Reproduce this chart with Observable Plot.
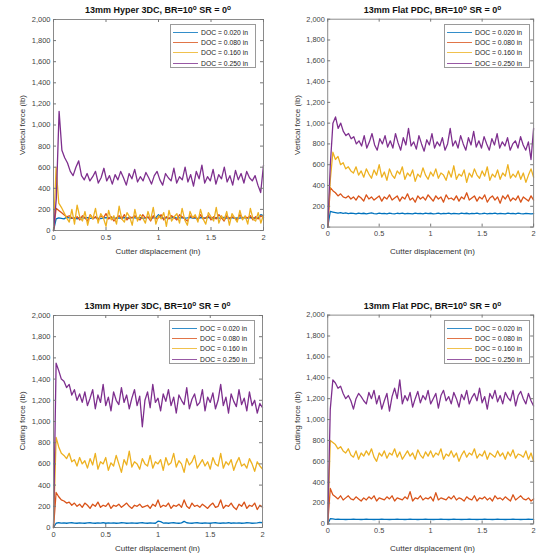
<!DOCTYPE html>
<html>
<head>
<meta charset="utf-8">
<script src="https://cdn.jsdelivr.net/npm/d3@7"></script>
<script src="https://cdn.jsdelivr.net/npm/@observablehq/plot@0.6"></script>
<style>
  html, body { margin: 0; padding: 0; background: #fff; }
  #root { position: relative; width: 541px; height: 556px; overflow: hidden; background: #fff;
          font-family: "Liberation Sans", Arial, Helvetica, sans-serif; }
  .panel { position: absolute; }
  .title { position: absolute; font-weight: bold; font-size: 9px; color: #111; white-space: nowrap; transform: translateX(-50%); }
  .title sup { font-size: 6.5px; vertical-align: 3px; line-height: 0; }
  .xlab { position: absolute; font-size: 8px; color: #333; white-space: nowrap; transform: translateX(-50%); }
  .ylab { position: absolute; font-size: 8px; color: #333; white-space: nowrap; transform: translate(-50%, -50%) rotate(-90deg); }
  .legend { position: absolute; background: #fff; border: 1px solid #9a9a9a; box-sizing: border-box; padding: 2px 2px 2px 2px; }
  .legend .row { display: flex; align-items: center; height: 10.4px; font-size: 6.8px; color: #222; white-space: nowrap; }
  .legend .sw { width: 25px; height: 0; border-top: 1px solid; margin-right: 3px; opacity: 0.8; }
</style>
</head>
<body>
<div id="root"></div>
<script>
// ---------- data ----------
const docLabels = ["DOC = 0.020 in", "DOC = 0.080 in", "DOC = 0.160 in", "DOC = 0.250 in"];
const seriesColors = ["#0072BD", "#D95319", "#EDB120", "#7E2F8E"];
const xTicks = [0, 0.5, 1, 1.5, 2];
const yTicks = [0, 200, 400, 600, 800, 1000, 1200, 1400, 1600, 1800, 2000];
const panelTitles = ["13mm Hyper 3DC, BR=10", "13mm Flat PDC, BR=10"];
const yLabels = ["Vertical force (lb)", "Cutting force (lb)"];
const xLabel = "Cutter displacement (in)";

// Vertical force, 13mm Hyper 3DC
const vertHyper020 = [0,110,120,115,110,125,120,115,120,110,125,120,118,122,115,120,125,118,112,120,122,118,125,120,115,120,118,122,120,116,124,120,118,122,115,120,125,118,120,122,150,120,118,122,115,120,125,118,120,122,118,120,125,118,120,115,122,120,118,124,120,116,122,118,120,125,118,120,122,115,120,118,125,120,118,122,120,118,120,150,140];
const vertHyper080 = [0,210,190,170,150,130,140,120,110,130,100,140,120,90,150,110,130,100,140,120,160,110,130,90,120,140,110,150,100,130,120,140,110,100,150,120,130,90,140,110,120,150,100,130,110,140,120,100,150,130,110,90,140,120,130,100,150,110,120,140,100,130,110,150,120,90,140,110,130,120,100,150,110,130,120,140,100,130,110,140,120];
const vertHyper160 = [0,600,260,220,170,120,80,200,60,240,130,90,180,50,150,110,210,70,160,120,40,190,100,140,60,230,110,80,170,130,50,200,90,150,120,70,180,100,220,60,140,110,170,40,190,90,130,160,70,210,100,50,180,120,150,80,200,110,60,170,130,90,220,70,140,100,180,50,160,120,80,190,100,140,60,210,110,90,170,70,150];
const vertHyper250 = [0,300,1130,760,690,640,560,520,600,660,520,480,540,470,510,560,450,500,590,470,520,440,530,480,560,500,430,540,490,580,460,510,470,550,500,440,520,560,480,430,540,500,470,590,450,510,480,600,460,530,420,560,490,620,450,510,470,580,440,530,490,600,460,520,430,570,480,540,450,560,500,470,520,430,360,620];

// Vertical force, 13mm Flat PDC
const vertFlat020 = [0,150,145,140,135,138,132,136,130,134,132,128,135,130,133,128,132,136,130,128,134,130,132,128,135,130,127,133,130,135,128,132,130,126,134,130,132,128,135,130,133,128,130,135,128,132,130,134,127,132,130,128,135,130,133,128,132,130,135,128,130,133,127,132,130,135,128,132,130,128,134,130,132,128,135,130,127,132,130,128,130];
const vertFlat080 = [0,380,350,330,300,320,290,280,300,270,290,260,300,280,250,310,270,290,260,280,300,250,290,270,310,260,280,300,250,290,270,320,260,280,240,300,270,290,260,310,280,250,300,270,290,240,310,270,280,260,300,250,290,270,330,260,280,300,250,290,270,310,240,280,300,260,290,230,300,270,310,250,280,260,300,240,290,270,250,300,260];
const vertFlat160 = [0,450,720,650,680,600,620,560,580,540,520,580,500,540,480,560,510,470,550,500,600,480,530,450,560,500,470,540,510,580,460,520,490,550,440,510,480,570,500,460,530,490,560,470,520,500,450,540,480,590,460,510,490,550,430,520,480,560,500,470,540,490,580,450,510,480,550,460,520,490,600,470,510,480,540,460,520,430,500,560,480];
const vertFlat250 = [0,600,1000,1060,950,1000,920,880,900,850,870,800,830,780,880,760,820,900,790,740,850,800,880,770,830,760,900,810,740,860,790,950,780,820,750,880,800,730,840,790,900,760,820,780,860,740,800,950,780,830,760,880,800,740,860,790,920,770,830,760,870,800,740,850,790,900,760,820,780,860,740,800,830,760,870,790,740,820,650,950];

// Cutting force, 13mm Hyper 3DC
const cutHyper020 = [0,40,45,42,44,40,43,45,42,40,44,42,40,43,45,42,40,44,42,45,40,43,42,44,40,42,45,43,40,42,44,42,40,43,45,42,40,44,42,40,60,55,42,44,40,43,45,42,40,44,58,45,42,40,43,45,42,40,44,42,40,43,45,42,40,44,42,45,40,43,42,44,40,42,45,43,40,42,44,48,45];
const cutHyper080 = [0,330,290,260,250,230,240,210,230,200,220,190,230,210,180,220,200,240,190,210,200,230,180,210,200,220,190,210,230,200,180,210,200,220,190,200,210,180,220,200,260,190,210,200,230,180,210,200,220,190,260,200,180,230,200,210,190,220,200,180,210,230,190,200,260,180,210,200,230,190,170,220,200,240,180,210,200,230,170,210,190];
const cutHyper160 = [0,850,760,700,680,650,700,620,640,580,660,600,630,560,650,590,700,550,620,600,660,540,610,580,680,600,520,640,590,720,570,620,600,550,650,600,580,680,560,620,600,640,540,660,590,610,700,570,630,600,520,650,590,620,680,560,600,640,580,620,550,660,600,580,700,560,620,590,640,540,610,660,580,600,560,650,600,530,620,580,550];
const cutHyper250 = [0,1550,1480,1400,1380,1320,1350,1250,1300,1200,1260,1180,1280,1150,1220,1300,1120,1250,1180,1350,1150,1230,1100,1280,1200,1160,1320,1180,1250,1120,1220,1300,1150,1240,950,1200,1280,1130,1350,1180,1220,1100,1260,1190,1300,1150,1230,1080,1250,1200,1160,1320,1120,1210,1260,1150,1180,1300,1100,1230,1180,1270,1120,1200,1350,1150,1230,1080,1260,1190,1140,1300,1160,1220,1100,1280,1150,1200,1080,1170,1130];

// Cutting force, 13mm Flat PDC
const cutFlat020 = [0,50,48,45,46,44,45,43,45,44,46,44,45,43,44,46,45,44,43,45,44,46,45,44,43,45,44,46,44,45,43,44,46,45,44,43,45,44,46,45,44,43,45,44,46,44,45,43,44,46,45,44,43,45,44,46,45,44,43,45,44,46,44,45,43,44,46,45,44,43,45,44,46,45,44,43,45,44,46,45,44];
const cutFlat080 = [0,340,280,260,240,270,230,250,270,240,230,260,240,220,250,230,260,240,270,220,250,240,230,260,240,270,220,250,240,230,260,240,310,220,250,240,270,230,250,240,260,220,300,230,250,240,230,260,240,270,230,250,240,220,260,240,230,270,220,250,240,260,230,250,220,270,240,250,230,260,240,220,280,230,250,270,240,230,250,220,240];
const cutFlat160 = [0,800,780,760,720,740,700,680,720,660,640,700,620,680,650,700,660,720,640,600,680,650,700,630,680,660,720,640,690,620,660,700,650,680,620,710,660,630,690,650,700,640,680,660,720,620,670,650,700,640,680,600,660,700,640,680,660,720,630,670,650,700,620,680,660,640,700,650,680,620,690,650,710,630,670,660,640,700,620,680,600];
const cutFlat250 = [0,1100,1380,1350,1300,1320,1250,1200,1230,1180,1100,1200,1250,1220,1180,1150,1260,1200,1280,1150,1230,1100,1180,1250,1080,1220,1300,1200,1380,1150,1230,1180,1260,1120,1200,1270,1160,1230,1190,1280,1150,1200,1250,1110,1230,1280,1180,1220,1150,1260,1200,1120,1240,1190,1280,1150,1210,1250,1180,1300,1160,1220,1100,1250,1200,1280,1170,1230,1150,1260,1210,1180,1280,1130,1230,1270,1200,1150,1250,1180,1130];

// ---------- drawing ----------
const root = document.getElementById("root");
const xMax = 2;

function toRows(values) {
  const n = values.length;
  return values.map((v, i) => ({x: (i * xMax) / (n - 1), y: v}));
}

function addDiv(cls, html, style) {
  const d = document.createElement("div");
  d.className = cls;
  d.innerHTML = html;
  Object.assign(d.style, style);
  root.appendChild(d);
  return d;
}

function makePanel({left, top, width, height, mt, mb, ml, mr, series, title, ylabel}) {
  const fw = width - ml - mr;
  const fh = height - mt - mb;
  const marks = [];
  series.forEach((vals, k) => {
    marks.push(Plot.line(toRows(vals), {x: "x", y: "y", stroke: seriesColors[k], strokeWidth: 1.3}));
  });
  marks.push(
    Plot.frame({stroke: "#8a8a8a", strokeWidth: 1}),
    Plot.gridX(xTicks, {stroke: "#777", strokeOpacity: 1, insetTop: fh - 3}),
    Plot.gridX(xTicks, {stroke: "#777", strokeOpacity: 1, insetBottom: fh - 3}),
    Plot.gridY(yTicks, {stroke: "#777", strokeOpacity: 1, insetRight: fw - 3}),
    Plot.gridY(yTicks, {stroke: "#777", strokeOpacity: 1, insetLeft: fw - 3}),
    Plot.axisX(xTicks, {tickSize: 0, tickPadding: 4, tickFormat: d => String(d), label: null, fill: "#444", fontSize: 7.5}),
    Plot.axisY(yTicks, {tickSize: 0, tickPadding: 3, tickFormat: d3.format(","), label: null, fill: "#444", fontSize: 7.5})
  );
  const svg = Plot.plot({
    width, height,
    marginTop: mt, marginBottom: mb, marginLeft: ml, marginRight: mr,
    x: {domain: [0, xMax]},
    y: {domain: [0, 2000]},
    style: {fontFamily: "'Liberation Sans', Arial, Helvetica, sans-serif", background: "transparent", overflow: "visible"},
    marks
  });
  const wrap = document.createElement("div");
  wrap.className = "panel";
  wrap.style.left = left + "px";
  wrap.style.top = top + "px";
  wrap.appendChild(svg);
  root.appendChild(wrap);

  const fx0 = left + ml, fx1 = left + ml + fw, fy0 = top + mt, fy1 = top + mt + fh;
  addDiv("title", title + "<sup>o</sup> SR = 0<sup>o</sup>", {left: ((fx0 + fx1) / 2) + "px", top: (fy0 - 14) + "px"});
  addDiv("xlab", xLabel, {left: ((fx0 + fx1) / 2) + "px", top: (fy1 + 17) + "px"});
  addDiv("ylab", ylabel, {left: (left + 22) + "px", top: ((fy0 + fy1) / 2) + "px"});

  const leg = addDiv("legend", "", {left: (fx1 - 7 - 86) + "px", top: (fy0 + 5) + "px", width: "86px", height: "44px"});
  docLabels.forEach((lab, k) => {
    const r = document.createElement("div");
    r.className = "row";
    r.innerHTML = `<span class="sw" style="border-color:${seriesColors[k]}"></span><span>${lab}</span>`;
    leg.appendChild(r);
  });
}

makePanel({left: 0, top: 0, width: 270, height: 245, mt: 19, mb: 15, ml: 53, mr: 7,
  series: [vertHyper020, vertHyper080, vertHyper160, vertHyper250], title: panelTitles[0], ylabel: yLabels[0]});
makePanel({left: 275, top: 0, width: 270, height: 245, mt: 19, mb: 15, ml: 53, mr: 8,
  series: [vertFlat020, vertFlat080, vertFlat160, vertFlat250], title: panelTitles[1], ylabel: yLabels[0]});
makePanel({left: 0, top: 290, width: 270, height: 252, mt: 25, mb: 15, ml: 53, mr: 8,
  series: [cutHyper020, cutHyper080, cutHyper160, cutHyper250], title: panelTitles[0], ylabel: yLabels[1]});
makePanel({left: 275, top: 290, width: 270, height: 252, mt: 25, mb: 15, ml: 53, mr: 8,
  series: [cutFlat020, cutFlat080, cutFlat160, cutFlat250], title: panelTitles[1], ylabel: yLabels[1]});
</script>
</body>
</html>
